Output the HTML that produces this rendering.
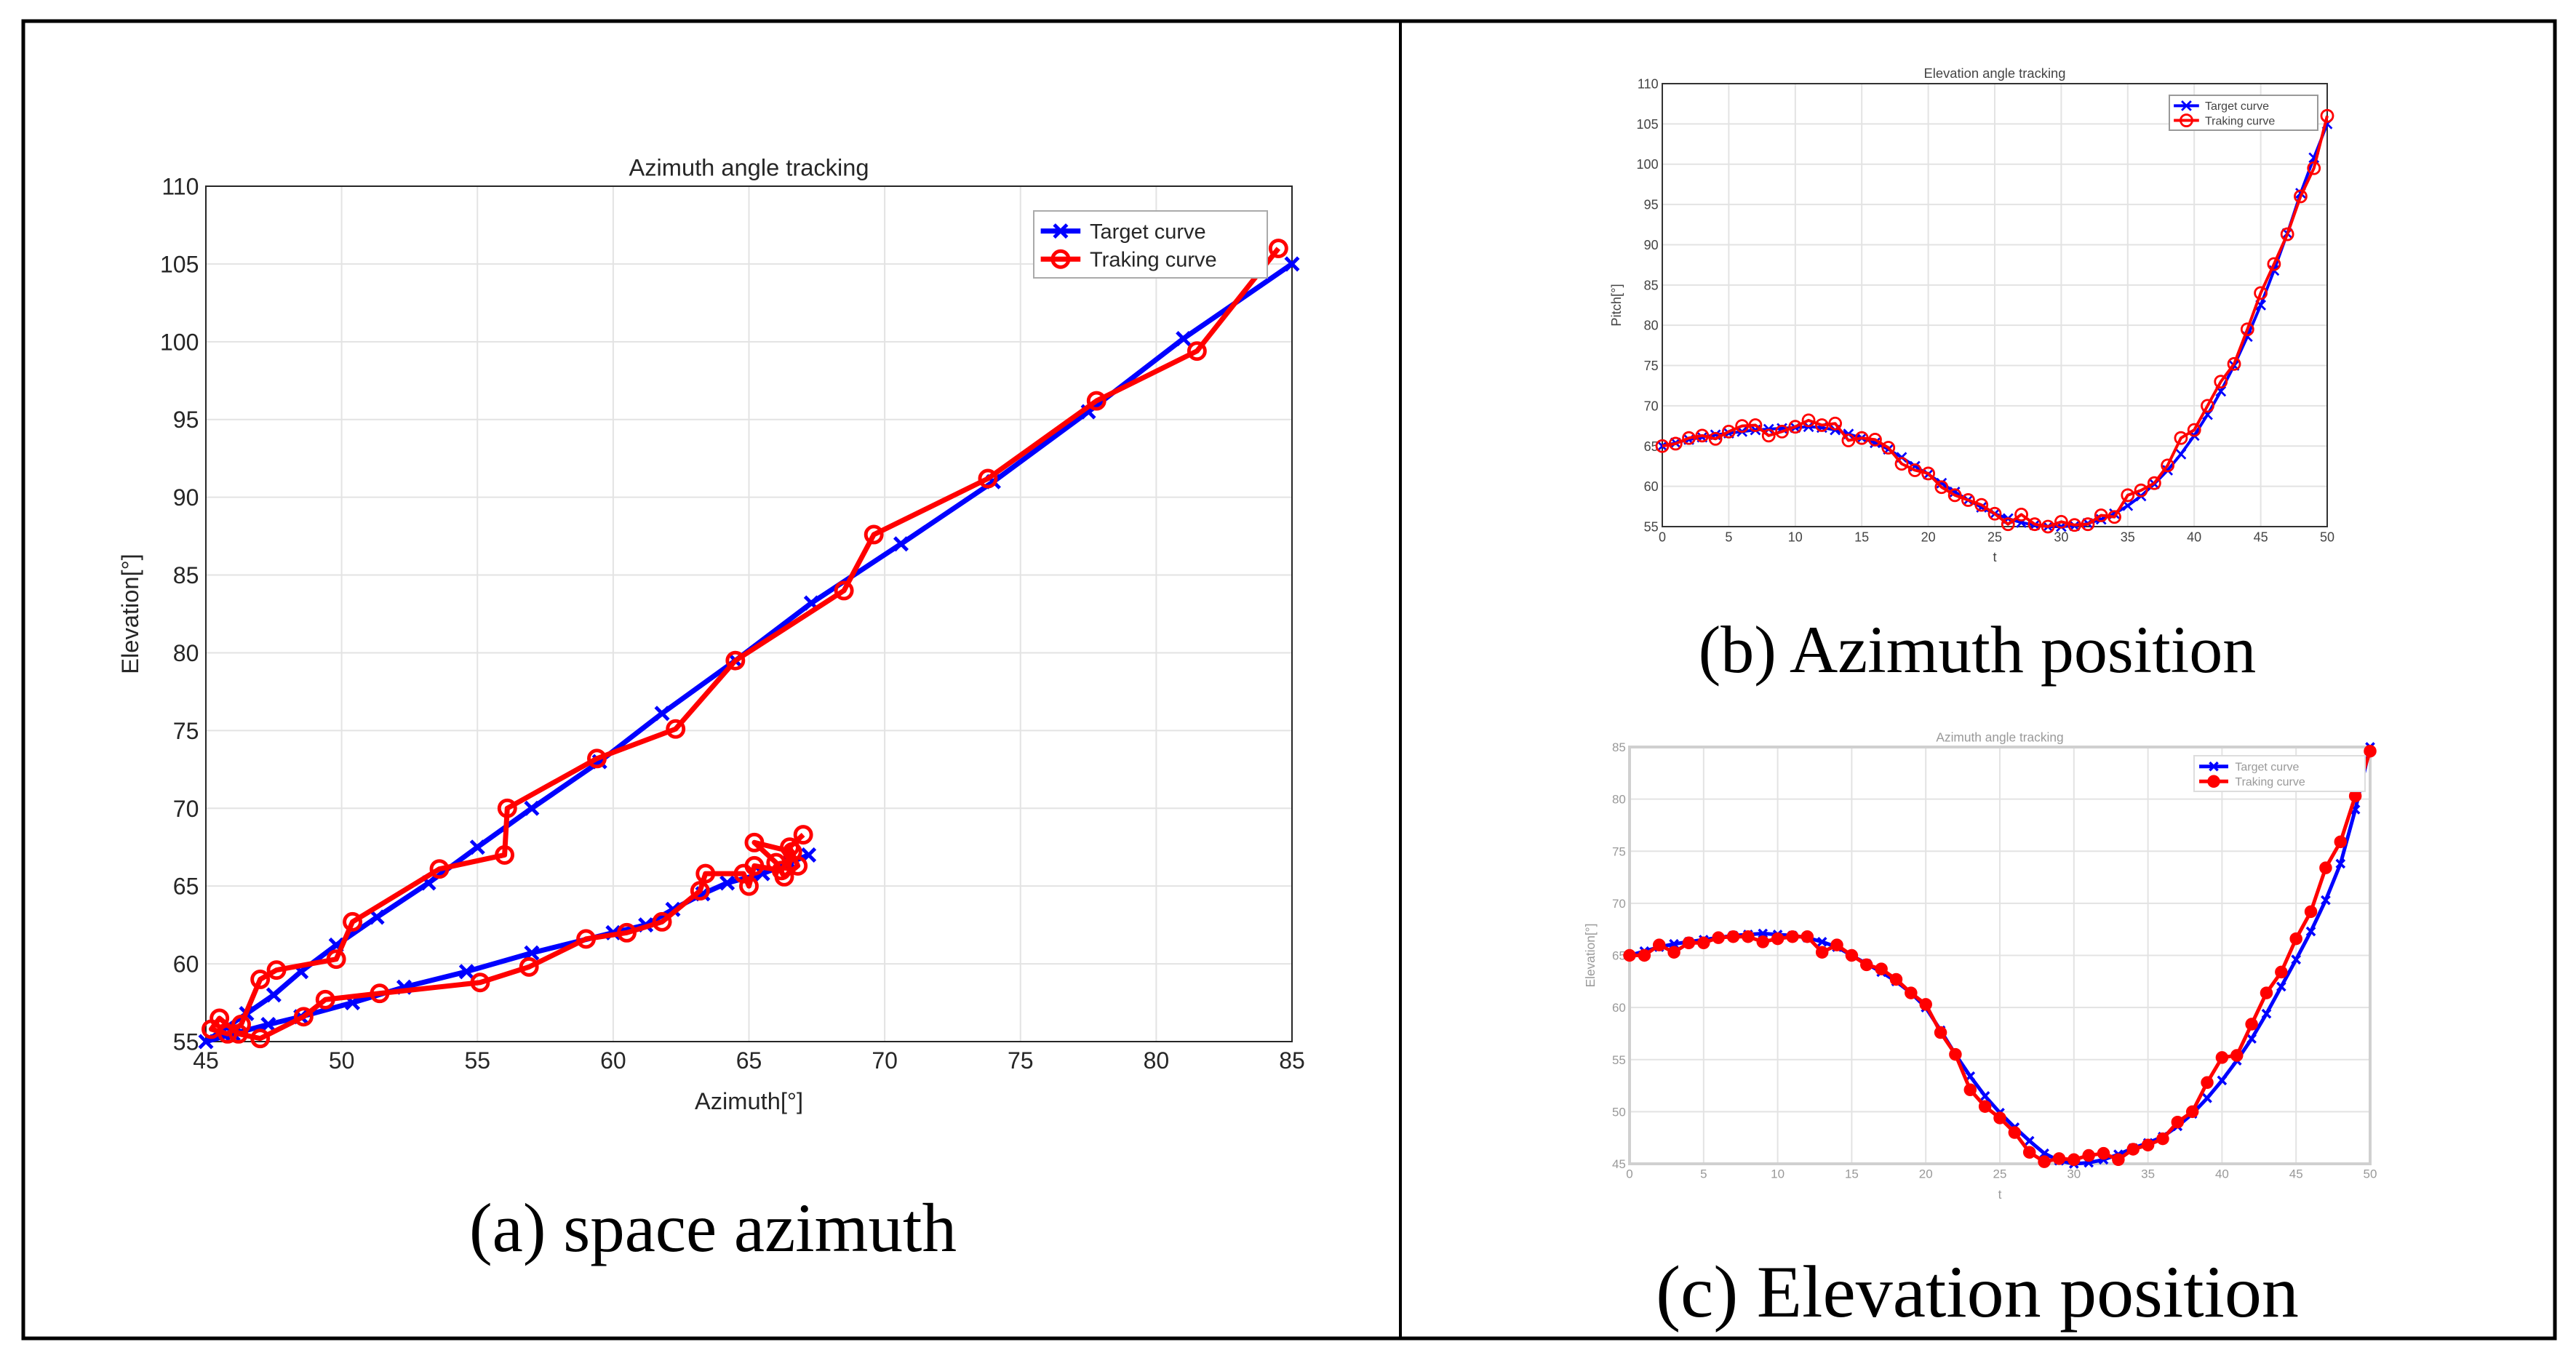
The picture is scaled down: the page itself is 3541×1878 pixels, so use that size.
<!DOCTYPE html>
<html><head><meta charset="utf-8"><style>
html,body{margin:0;padding:0;background:#fff;}
svg{display:block;font-family:"Liberation Sans",sans-serif;}
</style></head><body>
<svg id="fig" width="3541" height="1878" viewBox="0 0 3541 1878" xmlns="http://www.w3.org/2000/svg">
<rect x="0" y="0" width="3541" height="1878" fill="#fff"/>
<rect x="32" y="29" width="3480" height="1811" fill="none" stroke="#000" stroke-width="5"/>
<line x1="1925" y1="29" x2="1925" y2="1840" stroke="#000" stroke-width="4"/>
<text x="980" y="1720" font-family="Liberation Serif,serif" font-size="95" text-anchor="middle">(a) space azimuth</text>
<text x="2718" y="924" font-family="Liberation Serif,serif" font-size="92" text-anchor="middle">(b) Azimuth position</text>
<text x="2718" y="1810" font-family="Liberation Serif,serif" font-size="102" text-anchor="middle">(c) Elevation position</text>
<g id="layer"></g>
</svg>
<script>
const tVals=[0,1,2,3,4,5,6,7,8,9,10,11,12,13,14,15,16,17,18,19,20,21,22,23,24,25,26,27,28,29,30,31,32,33,34,35,36,37,38,39,40,41,42,43,44,45,46,47,48,49,50];
const pitchTarget=[65.0,65.4,65.8,66.1,66.4,66.6,66.8,67.0,67.1,67.2,67.3,67.4,67.3,67.0,66.5,66.0,65.4,64.6,63.6,62.5,61.5,60.4,59.3,58.3,57.4,56.6,56.0,55.5,55.2,55.0,55.0,55.1,55.4,55.9,56.6,57.6,58.8,60.3,62.0,64.0,66.3,68.9,71.8,75.0,78.6,82.5,86.8,91.4,96.4,100.8,105.0];
const pitchTrack=[65,65.3,66,66.3,65.9,66.8,67.5,67.6,66.3,66.8,67.4,68.2,67.6,67.8,65.7,66,65.8,64.8,62.8,62,61.6,59.9,58.9,58.3,57.7,56.6,55.3,56.5,55.3,55.0,55.6,55.2,55.3,56.4,56.2,58.9,59.5,60.4,62.6,66,67,70,73,75.2,79.5,84,87.6,91.3,96,99.5,106];
const elevTarget=[65,65.4,65.8,66.1,66.3,66.5,66.7,66.9,67.0,67.1,67.0,66.9,66.7,66.3,65.8,65.0,64.2,63.4,62.5,61.4,60.0,57.8,55.5,53.4,51.5,49.9,48.5,47.2,46.0,45.3,45.0,45.1,45.4,45.9,46.5,47.0,47.6,48.6,49.8,51.3,53.0,54.9,57.0,59.4,62.0,64.6,67.3,70.3,73.8,79.0,85.0];
const elevTrack=[65,65.0,66,65.3,66.2,66.2,66.7,66.8,66.8,66.3,66.6,66.8,66.8,65.3,66.0,65.0,64.1,63.7,62.7,61.4,60.3,57.6,55.5,52.1,50.5,49.4,48.0,46.1,45.2,45.5,45.4,45.8,46.0,45.4,46.4,46.8,47.4,49.0,50.0,52.8,55.2,55.4,58.4,61.4,63.4,66.6,69.2,73.4,75.9,80.3,84.6];
const azTargetA=[67.2,66.5,65.5,64.2,63.3,62.2,61.2,60.0,57.0,54.6,52.3,50.4,48.5,47.3,46.0,45.0,46.5,47.5,48.5,49.8,51.3,53.2,55.0,57.0,59.5,61.8,64.5,67.3,70.6,74.0,77.5,81.0,85.0];
const elTargetA=[67.0,66.5,65.8,65.2,64.5,63.5,62.5,62.0,60.7,59.5,58.5,57.5,56.6,56.1,55.5,55.0,56.8,58.0,59.5,61.2,63.0,65.2,67.5,70.0,73.0,76.1,79.5,83.2,87.0,91.0,95.5,100.2,105.0];
const azTrackA=[67.0,66.5,66.8,66.3,66.0,65.2,66.6,66.2,65.2,65.0,64.8,63.4,63.2,61.8,60.5,59.0,56.9,55.1,51.4,49.4,48.6,47.0,46.2,45.5,45.2,45.8,46.3,47.0,47.6,49.8,50.4,53.6,56.0,56.1,59.4,62.3,64.5,68.5,69.6,73.8,77.8,81.5,84.5];
const elTrackA=[68.3,67.5,66.3,65.6,66.5,67.8,67.2,66.0,66.3,65.0,65.8,65.8,64.7,62.7,62.0,61.6,59.8,58.8,58.1,57.7,56.6,55.2,55.5,56.5,55.8,55.5,56.1,59.0,59.6,60.3,62.7,66.1,67.0,70.0,73.2,75.1,79.5,84.0,87.6,91.2,96.2,99.4,106.0];
const ticksA_x=[45,50,55,60,65,70,75,80,85];
const ticksA_y=[55,60,65,70,75,80,85,90,95,100,105,110];
const ticksB_x=[0,5,10,15,20,25,30,35,40,45,50];
const ticksB_y=[55,60,65,70,75,80,85,90,95,100,105,110];
const ticksC_y=[45,50,55,60,65,70,75,80,85];
const legendLabels=["Target curve","Traking curve"];

const NS="http://www.w3.org/2000/svg";
const layer=document.getElementById('layer');
function mk(tag,attrs,parent){const e=document.createElementNS(NS,tag);for(const k in attrs)e.setAttribute(k,attrs[k]);(parent||layer).appendChild(e);return e;}

function chart(o){
  const g=mk('g',{});
  
  
  const sx=v=>o.x0+(v-o.xmin)/(o.xmax-o.xmin)*(o.x1-o.x0);
  const sy=v=>o.y1-(v-o.ymin)/(o.ymax-o.ymin)*(o.y1-o.y0);
  o.xt.forEach(v=>{const l=mk('line',{x1:sx(v),x2:sx(v),y1:o.y0,y2:o.y1,stroke:'#e3e3e3','stroke-width':o.gw},g);});
  o.yt.forEach(v=>{const l=mk('line',{x1:o.x0,x2:o.x1,y1:sy(v),y2:sy(v),stroke:'#e3e3e3','stroke-width':o.gw},g);});
  const box=mk('rect',{x:o.x0,y:o.y0,width:o.x1-o.x0,height:o.y1-o.y0,fill:'none',stroke:o.axc,'stroke-width':o.aw},g);
  
  o.xt.forEach(v=>{
    const t=mk('text',{x:sx(v),y:o.y1+o.fs*1.15,'font-size':o.fs,'text-anchor':'middle',fill:o.tc},g);t.textContent=v;
    
  });
  o.yt.forEach(v=>{
    const t=mk('text',{x:o.x0-o.fs*0.3,y:sy(v)+o.fs*0.36,'font-size':o.fs,'text-anchor':'end',fill:o.tc},g);t.textContent=v;
    
  });
  const ti=mk('text',{x:(o.x0+o.x1)/2,y:o.y0-o.fs*0.45,'font-size':o.fs*1.02,'text-anchor':'middle',fill:o.tc},g);ti.textContent=o.title;
  
  const xl=mk('text',{x:(o.x0+o.x1)/2,y:o.xly,'font-size':o.fs*1.02,'text-anchor':'middle',fill:o.tc},g);xl.textContent=o.xlabel;
  
  const yl=mk('text',{x:o.ylx,y:(o.y0+o.y1)/2,'font-size':o.fs*1.02,'text-anchor':'middle',fill:o.tc,transform:`rotate(-90 ${o.ylx} ${(o.y0+o.y1)/2})`},g);yl.textContent=o.ylabel;
  
  const cols=['#0000ff','#ff0000'];
  o.series.forEach((s,i)=>{
    const pts=s.xs.map((x,j)=>[sx(x),sy(s.ys[j])]);
    const p=mk('polyline',{points:pts.map(q=>q.join(',')).join(' '),fill:'none',stroke:cols[i],'stroke-width':o.lw,'stroke-linejoin':'round'},g);
    
    pts.forEach(q=>{
      let m;
      if(i===0){const r=o.ms*0.8;m=mk('path',{d:`M${q[0]-r},${q[1]-r}L${q[0]+r},${q[1]+r}M${q[0]-r},${q[1]+r}L${q[0]+r},${q[1]-r}`,stroke:cols[0],'stroke-width':o.lw*0.7},g);}
      else m=mk('circle',{cx:q[0],cy:q[1],r:o.ms,fill:o.fillc?cols[1]:'none',stroke:cols[1],'stroke-width':o.lw*0.7},g);
      
    });
  });
  const L=o.leg;
  const lg=mk('g',{},g);
  mk('rect',{x:L.x,y:L.y,width:L.w,height:L.h,fill:'#fff',stroke:o.legc,'stroke-width':2},lg);
  legendLabels.forEach((lab,i)=>{
    const yy=L.y+L.h*(0.3+0.42*i);
    const ln=mk('line',{x1:L.x+L.w*0.03,x2:L.x+L.w*0.2,y1:yy,y2:yy,stroke:cols[i],'stroke-width':o.lw},lg);
    
    const cx=L.x+L.w*0.115;
    if(i===0){const r=o.ms*0.8;mk('path',{d:`M${cx-r},${yy-r}L${cx+r},${yy+r}M${cx-r},${yy+r}L${cx+r},${yy-r}`,stroke:cols[0],'stroke-width':o.lw*0.7},lg);}
    else mk('circle',{cx:cx,cy:yy,r:o.ms,fill:o.fillc?cols[1]:'none',stroke:cols[1],'stroke-width':o.lw*0.7},lg);
    const t=mk('text',{x:L.x+L.w*0.24,y:yy+o.lfs*0.36,'font-size':o.lfs,fill:o.tc},lg);t.textContent=lab;
    
  });
}

chart({name:'chart-space-azimuth',x0:283,x1:1776,y0:256,y1:1432,xmin:45,xmax:85,ymin:55,ymax:110,xt:ticksA_x,yt:ticksA_y,
  fs:32,tc:'#262626',axc:'#262626',aw:2,gw:2,lw:7,ms:11,legc:'#aaa',title:'Azimuth angle tracking',xlabel:'Azimuth[°]',ylabel:'Elevation[°]',
  xly:1525,ylx:190,series:[{xs:azTargetA,ys:elTargetA},{xs:azTrackA,ys:elTrackA}],
  leg:{x:1421,y:290,w:321,h:92},lfs:29});

chart({name:'chart-elevation-tracking',x0:2285,x1:3199,y0:115,y1:724,xmin:0,xmax:50,ymin:55,ymax:110,xt:ticksB_x,yt:ticksB_y,
  fs:18,tc:'#444',axc:'#333',aw:2,gw:2,lw:4,ms:8,legc:'#999',title:'Elevation angle tracking',xlabel:'t',ylabel:'Pitch[°]',
  xly:772,ylx:2228,series:[{xs:tVals,ys:pitchTarget},{xs:tVals,ys:pitchTrack}],
  leg:{x:2982,y:131,w:204,h:48},lfs:16});

chart({name:'chart-azimuth-tracking',x0:2240,x1:3258,y0:1027,y1:1600,xmin:0,xmax:50,ymin:45,ymax:85,xt:ticksB_x,yt:ticksC_y,
  fs:17,tc:'#999',axc:'#d0d0d0',aw:4,gw:2,lw:5,ms:7,fillc:true,legc:'#ddd',title:'Azimuth angle tracking',xlabel:'t',ylabel:'Elevation[°]',
  xly:1648,ylx:2192,series:[{xs:tVals,ys:elevTarget},{xs:tVals,ys:elevTrack}],
  leg:{x:3016,y:1039,w:235,h:49},lfs:16});
</script>
</body></html>
